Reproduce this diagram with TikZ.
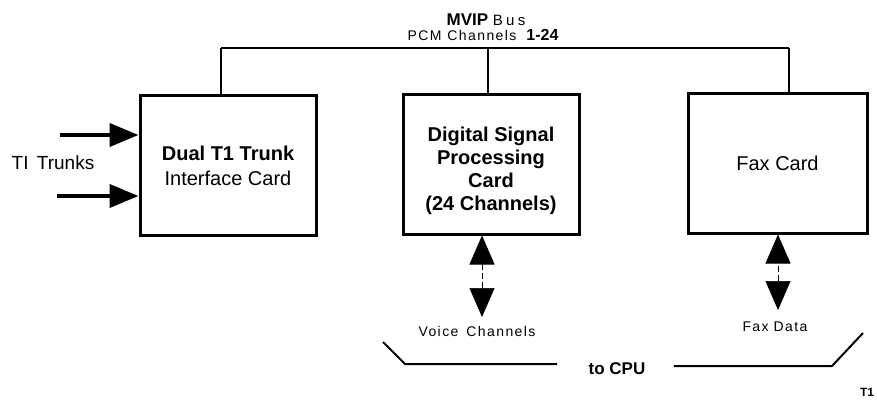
\documentclass[tikz,border=0pt]{standalone}
\usepackage{fontspec}
\setmainfont{Liberation Sans}
\newfontfamily\spaced[LetterSpace=10]{Liberation Sans}
\newfontfamily\wide[LetterSpace=22]{Liberation Sans}
\usetikzlibrary{arrows.meta,calc}

\begin{document}
\begin{tikzpicture}[x=1pt,y=-1pt,>=Stealth]
    \tikzset{card/.style={draw,line width=3pt,minimum width=176pt,minimum height=139pt,inner sep=0pt,align=center,font=\fontsize{20}{25}\selectfont},
      bus/.style={line width=1.8pt},
      stub/.style={line width=1.5pt},
      trunkarrow/.style={line width=4pt,-{Triangle[length=29pt,width=23pt]}},
      dblarrow/.style={line width=0.7pt,dash pattern=on 6pt off 3pt,{Triangle[length=29pt,width=25pt]}-{Triangle[length=29pt,width=25pt]}},
      small/.style={font=\fontsize{14}{16}\spaced},
      brk/.style={line width=2pt}}
    \useasboundingbox (0,0) rectangle (877,401);
    % cards
    \node[card] (trunk) at (228,165.5) {\textbf{Dual T1 Trunk}\\Interface Card};
    \node[card,font=\fontsize{20}{23}\selectfont\bfseries] (dsp) at (491,164.5) {\rule{0pt}{28pt}Digital Signal\\Processing\\Card\\(24 Channels)};
    \node[card,minimum width=179pt] (fax) at (777.5,163.5) {Fax Card};
    % MVIP bus
    \node[font=\fontsize{17}{19}\selectfont] (mvip) at (486,20) {\textbf{MVIP} {\wide\fontsize{15}{17}\selectfont Bus}};
    \node[small] (pcm) at (483,35) {PCM\hspace{6pt}Channels\hspace{10pt}{\fontsize{16}{18}\selectfont\normalfont\bfseries 1-24}};
    \coordinate (busL) at (221,48);
    \coordinate (busM) at (488,48);
    \coordinate (busR) at (789,48);
    \draw[bus] (busL) -- (busR);
    \draw[stub] (busL) -- (busL |- trunk.north);
    \draw[stub] (busM) -- (busM |- dsp.north);
    \draw[stub] (busR) -- (busR |- fax.north);
    % trunks in
    \node[font=\fontsize{19}{21}\selectfont] (trunks) at (53,163) {TI\hspace{3pt} Trunks};
    \coordinate (in1) at (60,135);
    \coordinate (in2) at (57,196);
    \draw[trunkarrow] (in1) -- (in1 -| trunk.west);
    \draw[trunkarrow] (in2) -- (in2 -| trunk.west);
    % to CPU
    \node[small] (voice) at (477,331) {Voice\hspace{8pt}Channels};
    \node[small] (faxdata) at (775,327) {Fax\hspace{5pt}Data};
    \coordinate (vtip) at (482,317);
    \coordinate (ftip) at (778,310);
    \draw[dblarrow] (vtip) -- (vtip |- dsp.south);
    \draw[dblarrow] (ftip) -- (ftip |- fax.south);
    \node[font=\fontsize{17}{19}\selectfont\bfseries] (cpu) at (617,369) {to CPU};
    \draw[brk] (383,342) -- (405,364) -- ($(cpu.west)+(-28,-5)$);
    \draw[brk] ($(cpu.east)+(25,-3)$) -- (832,366) -- (863,333);
    \node[font=\fontsize{12}{14}\selectfont\bfseries] (fig) at (867,392) {T1};
  \end{tikzpicture}
\end{document}
